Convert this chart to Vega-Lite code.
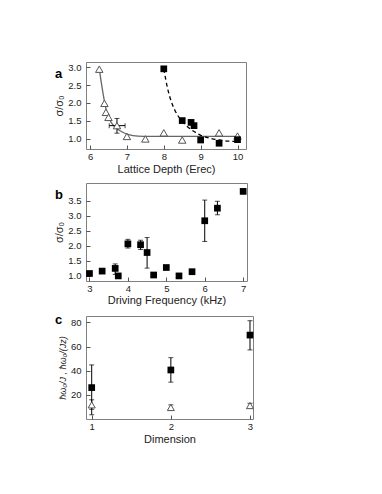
{
  "$schema": "https://vega.github.io/schema/vega-lite/v6.json",
  "padding": {"top": 61, "left": 53, "right": 5, "bottom": 5},
  "spacing": 7,
  "config": {
    "font": "Liberation Sans",
    "view": {"stroke": "#808080", "strokeWidth": 1},
    "axis": {"grid": false, "domain": false, "tickSize": -4, "tickColor": "#555555", "labelFontSize": 9.5, "titleFontSize": 11, "labelColor": "#222222", "titleColor": "#222222", "titleFontWeight": "normal", "titlePadding": 3, "labelOverlap": false, "labelFlush": false, "labelBound": false},
    "axisX": {"labelPadding": 6},
    "axisY": {"labelPadding": 9},
    "title": {"anchor": "start", "frame": "group", "fontSize": 13, "fontWeight": "bold", "dx": -31, "dy": 23, "offset": 0, "baseline": "alphabetic", "color": "#000000"}
  },
  "datasets": {
    "aTri": [{"x":6.25,"y":2.94},{"x":6.39,"y":1.99},{"x":6.43,"y":1.74},{"x":6.5,"y":1.6},{"x":6.73,"y":1.37},{"x":7.0,"y":1.07},{"x":7.5,"y":1.0},{"x":8.0,"y":1.17},{"x":8.5,"y":0.97},{"x":9.5,"y":1.17},{"x":10.0,"y":1.08}],
    "aSq": [{"x":8.0,"y":2.95},{"x":8.5,"y":1.51},{"x":8.74,"y":1.46},{"x":8.82,"y":1.37},{"x":9.0,"y":0.97},{"x":9.5,"y":0.88},{"x":10.0,"y":0.98}],
    "aFitSolid": [{"x":6.25,"y":2.95},{"x":6.3,"y":2.6},{"x":6.35,"y":2.28},{"x":6.43,"y":1.85},{"x":6.5,"y":1.6},{"x":6.6,"y":1.42},{"x":6.75,"y":1.27},{"x":6.9,"y":1.18},{"x":7.05,"y":1.12},{"x":7.3,"y":1.08},{"x":7.6,"y":1.07},{"x":8.0,"y":1.07},{"x":9.0,"y":1.07},{"x":10.0,"y":1.07}],
    "aFitDash": [{"x":8.0,"y":2.95},{"x":8.1,"y":2.42},{"x":8.2,"y":2.05},{"x":8.3,"y":1.8},{"x":8.45,"y":1.55},{"x":8.6,"y":1.38},{"x":8.8,"y":1.22},{"x":9.0,"y":1.1},{"x":9.25,"y":1.02},{"x":9.5,"y":0.97},{"x":9.75,"y":0.94},{"x":10.0,"y":0.93}],
    "aErrV": [{"x":6.73,"lo":1.16,"hi":1.57}],
    "aErrH": [{"y":1.37,"lo":6.52,"hi":6.95}],
    "bPts": [{"x":3.0,"y":1.07},{"x":3.33,"y":1.15},{"x":3.67,"y":1.24},{"x":3.75,"y":0.99},{"x":4.0,"y":2.06},{"x":4.33,"y":2.03},{"x":4.5,"y":1.77},{"x":4.67,"y":1.02},{"x":5.0,"y":1.27},{"x":5.33,"y":0.99},{"x":5.67,"y":1.13},{"x":6.0,"y":2.83},{"x":6.33,"y":3.25},{"x":7.0,"y":3.81}],
    "bErr": [{"x":3.67,"lo":1.04,"hi":1.39},{"x":4.0,"lo":1.92,"hi":2.21},{"x":4.33,"lo":1.87,"hi":2.18},{"x":4.5,"lo":1.25,"hi":2.27},{"x":6.0,"lo":2.14,"hi":3.52},{"x":6.33,"lo":3.03,"hi":3.48}],
    "cSq": [{"x":1,"y":26.0,"lo":8.0,"hi":44.8},{"x":2,"y":40.6,"lo":30.5,"hi":50.8},{"x":3,"y":69.5,"lo":57.2,"hi":81.4}],
    "cTri": [{"x":1,"y":11.7,"lo":3.5,"hi":15.9},{"x":2,"y":9.5,"lo":7.6,"hi":11.7},{"x":3,"y":11.1,"lo":9.0,"hi":13.0}]
  },
  "vconcat": [
    {
      "width": 160, "height": 87,
      "title": {"text": "a"},
      "layer": [
        {"data": {"name": "aFitSolid"}, "mark": {"type": "line", "interpolate": "monotone", "color": "#666666", "strokeWidth": 1.3},
         "encoding": {
           "x": {"field": "x", "type": "quantitative", "title": "Lattice Depth (Erec)", "scale": {"domain": [5.89, 10.23], "nice": false, "zero": false}, "axis": {"values": [6,7,8,9,10], "format": ".0f", "labelOverlap": false}},
           "y": {"field": "y", "type": "quantitative", "title": "σ/σ₀", "scale": {"domain": [0.72, 3.14], "nice": false, "zero": false}, "axis": {"values": [1,1.5,2,2.5,3], "format": ".1f", "labelOverlap": false}}}},
        {"data": {"name": "aFitDash"}, "mark": {"type": "line", "interpolate": "monotone", "color": "#000000", "strokeWidth": 1.3, "strokeDash": [4, 3]},
         "encoding": {"x": {"field": "x", "type": "quantitative", "title": "Lattice Depth (Erec)", "axis": {"values": [6,7,8,9,10], "format": ".0f", "labelOverlap": false}}, "y": {"field": "y", "type": "quantitative", "title": "σ/σ₀", "axis": {"values": [1,1.5,2,2.5,3], "format": ".1f", "labelOverlap": false}}}},
        {"data": {"name": "aErrV"}, "mark": {"type": "rule", "color": "#000000", "strokeWidth": 1},
         "encoding": {"x": {"field": "x", "type": "quantitative", "title": "Lattice Depth (Erec)", "axis": {"values": [6,7,8,9,10], "format": ".0f", "labelOverlap": false}}, "y": {"field": "lo", "type": "quantitative", "title": "σ/σ₀", "axis": {"values": [1,1.5,2,2.5,3], "format": ".1f", "labelOverlap": false}}, "y2": {"field": "hi"}}},
        {"data": {"name": "aErrV"}, "mark": {"type": "tick", "color": "#000000", "orient": "horizontal", "size": 5, "thickness": 1},
         "encoding": {"x": {"field": "x", "type": "quantitative", "title": "Lattice Depth (Erec)", "axis": {"values": [6,7,8,9,10], "format": ".0f", "labelOverlap": false}}, "y": {"field": "lo", "type": "quantitative", "title": "σ/σ₀", "axis": {"values": [1,1.5,2,2.5,3], "format": ".1f", "labelOverlap": false}}}},
        {"data": {"name": "aErrV"}, "mark": {"type": "tick", "color": "#000000", "orient": "horizontal", "size": 5, "thickness": 1},
         "encoding": {"x": {"field": "x", "type": "quantitative", "title": "Lattice Depth (Erec)", "axis": {"values": [6,7,8,9,10], "format": ".0f", "labelOverlap": false}}, "y": {"field": "hi", "type": "quantitative", "title": "σ/σ₀", "axis": {"values": [1,1.5,2,2.5,3], "format": ".1f", "labelOverlap": false}}}},
        {"data": {"name": "aErrH"}, "mark": {"type": "rule", "color": "#000000", "strokeWidth": 1},
         "encoding": {"y": {"field": "y", "type": "quantitative", "title": "σ/σ₀", "axis": {"values": [1,1.5,2,2.5,3], "format": ".1f", "labelOverlap": false}}, "x": {"field": "lo", "type": "quantitative", "title": "Lattice Depth (Erec)", "axis": {"values": [6,7,8,9,10], "format": ".0f", "labelOverlap": false}}, "x2": {"field": "hi"}}},
        {"data": {"name": "aErrH"}, "mark": {"type": "tick", "color": "#000000", "orient": "vertical", "size": 5, "thickness": 1},
         "encoding": {"y": {"field": "y", "type": "quantitative", "title": "σ/σ₀", "axis": {"values": [1,1.5,2,2.5,3], "format": ".1f", "labelOverlap": false}}, "x": {"field": "lo", "type": "quantitative", "title": "Lattice Depth (Erec)", "axis": {"values": [6,7,8,9,10], "format": ".0f", "labelOverlap": false}}}},
        {"data": {"name": "aErrH"}, "mark": {"type": "tick", "color": "#000000", "orient": "vertical", "size": 5, "thickness": 1},
         "encoding": {"y": {"field": "y", "type": "quantitative", "title": "σ/σ₀", "axis": {"values": [1,1.5,2,2.5,3], "format": ".1f", "labelOverlap": false}}, "x": {"field": "hi", "type": "quantitative", "title": "Lattice Depth (Erec)", "axis": {"values": [6,7,8,9,10], "format": ".0f", "labelOverlap": false}}}},
        {"data": {"name": "aTri"}, "mark": {"type": "point", "shape": "triangle-up", "filled": true, "fill": "#ffffff", "stroke": "#555555", "strokeWidth": 1, "size": 55, "opacity": 1},
         "encoding": {"x": {"field": "x", "type": "quantitative", "title": "Lattice Depth (Erec)", "axis": {"values": [6,7,8,9,10], "format": ".0f", "labelOverlap": false}}, "y": {"field": "y", "type": "quantitative", "title": "σ/σ₀", "axis": {"values": [1,1.5,2,2.5,3], "format": ".1f", "labelOverlap": false}}}},
        {"data": {"name": "aSq"}, "mark": {"type": "point", "shape": "square", "filled": true, "color": "#000000", "size": 45, "opacity": 1},
         "encoding": {"x": {"field": "x", "type": "quantitative", "title": "Lattice Depth (Erec)", "axis": {"values": [6,7,8,9,10], "format": ".0f", "labelOverlap": false}}, "y": {"field": "y", "type": "quantitative", "title": "σ/σ₀", "axis": {"values": [1,1.5,2,2.5,3], "format": ".1f", "labelOverlap": false}}}}
      ]
    },
    {
      "width": 161, "height": 98,
      "title": {"text": "b"},
      "layer": [
        {"data": {"name": "bErr"}, "mark": {"type": "rule", "color": "#000000", "strokeWidth": 1},
         "encoding": {
           "x": {"field": "x", "type": "quantitative", "title": "Driving Frequency (kHz)", "scale": {"domain": [2.91, 7.1], "nice": false, "zero": false}, "axis": {"values": [3,4,5,6,7], "format": ".0f", "titlePadding": 2, "labelOverlap": false}},
           "y": {"field": "lo", "type": "quantitative", "title": "σ/σ₀", "scale": {"domain": [0.82, 4.09], "nice": false, "zero": false}, "axis": {"values": [1,1.5,2,2.5,3,3.5], "format": ".1f", "labelOverlap": false}},
           "y2": {"field": "hi"}}},
        {"data": {"name": "bErr"}, "mark": {"type": "tick", "color": "#000000", "orient": "horizontal", "size": 5, "thickness": 1},
         "encoding": {"x": {"field": "x", "type": "quantitative", "title": "Driving Frequency (kHz)", "axis": {"values": [3,4,5,6,7], "format": ".0f", "titlePadding": 2, "labelOverlap": false}}, "y": {"field": "lo", "type": "quantitative", "title": "σ/σ₀", "axis": {"values": [1,1.5,2,2.5,3,3.5], "format": ".1f", "labelOverlap": false}}}},
        {"data": {"name": "bErr"}, "mark": {"type": "tick", "color": "#000000", "orient": "horizontal", "size": 5, "thickness": 1},
         "encoding": {"x": {"field": "x", "type": "quantitative", "title": "Driving Frequency (kHz)", "axis": {"values": [3,4,5,6,7], "format": ".0f", "titlePadding": 2, "labelOverlap": false}}, "y": {"field": "hi", "type": "quantitative", "title": "σ/σ₀", "axis": {"values": [1,1.5,2,2.5,3,3.5], "format": ".1f", "labelOverlap": false}}}},
        {"data": {"name": "bPts"}, "mark": {"type": "point", "shape": "square", "filled": true, "color": "#000000", "size": 45, "opacity": 1},
         "encoding": {"x": {"field": "x", "type": "quantitative", "title": "Driving Frequency (kHz)", "axis": {"values": [3,4,5,6,7], "format": ".0f", "titlePadding": 2, "labelOverlap": false}}, "y": {"field": "y", "type": "quantitative", "title": "σ/σ₀", "axis": {"values": [1,1.5,2,2.5,3,3.5], "format": ".1f", "labelOverlap": false}}}}
      ]
    },
    {
      "width": 167, "height": 103,
      "title": {"text": "c", "dy": 15},
      "layer": [
        {"data": {"name": "cSq"}, "mark": {"type": "rule", "color": "#000000", "strokeWidth": 1},
         "encoding": {
           "x": {"field": "x", "type": "quantitative", "title": "Dimension", "scale": {"domain": [0.928, 3.038], "nice": false, "zero": false}, "axis": {"values": [1,2,3], "format": ".0f", "labelOverlap": false}},
           "y": {"field": "lo", "type": "quantitative", "title": "ħω₀/J , ħω₀/(Jz)", "scale": {"domain": [0, 85.3], "nice": false, "zero": false}, "axis": {"values": [20,40,60,80], "format": ".0f", "titleFontStyle": "italic", "titleFontSize": 9, "labelOverlap": false}},
           "y2": {"field": "hi"}}},
        {"data": {"name": "cSq"}, "mark": {"type": "tick", "color": "#000000", "orient": "horizontal", "size": 5, "thickness": 1},
         "encoding": {"x": {"field": "x", "type": "quantitative", "title": "Dimension", "axis": {"values": [1,2,3], "format": ".0f", "labelOverlap": false}}, "y": {"field": "lo", "type": "quantitative", "title": "ħω₀/J , ħω₀/(Jz)", "axis": {"values": [20,40,60,80], "format": ".0f", "titleFontStyle": "italic", "titleFontSize": 9, "labelOverlap": false}}}},
        {"data": {"name": "cSq"}, "mark": {"type": "tick", "color": "#000000", "orient": "horizontal", "size": 5, "thickness": 1},
         "encoding": {"x": {"field": "x", "type": "quantitative", "title": "Dimension", "axis": {"values": [1,2,3], "format": ".0f", "labelOverlap": false}}, "y": {"field": "hi", "type": "quantitative", "title": "ħω₀/J , ħω₀/(Jz)", "axis": {"values": [20,40,60,80], "format": ".0f", "titleFontStyle": "italic", "titleFontSize": 9, "labelOverlap": false}}}},
        {"data": {"name": "cTri"}, "mark": {"type": "rule", "color": "#000000", "strokeWidth": 1},
         "encoding": {"x": {"field": "x", "type": "quantitative", "title": "Dimension", "axis": {"values": [1,2,3], "format": ".0f", "labelOverlap": false}}, "y": {"field": "lo", "type": "quantitative", "title": "ħω₀/J , ħω₀/(Jz)", "axis": {"values": [20,40,60,80], "format": ".0f", "titleFontStyle": "italic", "titleFontSize": 9, "labelOverlap": false}}, "y2": {"field": "hi"}}},
        {"data": {"name": "cTri"}, "mark": {"type": "tick", "color": "#000000", "orient": "horizontal", "size": 5, "thickness": 1},
         "encoding": {"x": {"field": "x", "type": "quantitative", "title": "Dimension", "axis": {"values": [1,2,3], "format": ".0f", "labelOverlap": false}}, "y": {"field": "lo", "type": "quantitative", "title": "ħω₀/J , ħω₀/(Jz)", "axis": {"values": [20,40,60,80], "format": ".0f", "titleFontStyle": "italic", "titleFontSize": 9, "labelOverlap": false}}}},
        {"data": {"name": "cTri"}, "mark": {"type": "tick", "color": "#000000", "orient": "horizontal", "size": 5, "thickness": 1},
         "encoding": {"x": {"field": "x", "type": "quantitative", "title": "Dimension", "axis": {"values": [1,2,3], "format": ".0f", "labelOverlap": false}}, "y": {"field": "hi", "type": "quantitative", "title": "ħω₀/J , ħω₀/(Jz)", "axis": {"values": [20,40,60,80], "format": ".0f", "titleFontStyle": "italic", "titleFontSize": 9, "labelOverlap": false}}}},
        {"data": {"name": "cTri"}, "mark": {"type": "point", "shape": "triangle-up", "filled": true, "fill": "#ffffff", "stroke": "#555555", "strokeWidth": 1, "size": 50, "opacity": 1},
         "encoding": {"x": {"field": "x", "type": "quantitative", "title": "Dimension", "axis": {"values": [1,2,3], "format": ".0f", "labelOverlap": false}}, "y": {"field": "y", "type": "quantitative", "title": "ħω₀/J , ħω₀/(Jz)", "axis": {"values": [20,40,60,80], "format": ".0f", "titleFontStyle": "italic", "titleFontSize": 9, "labelOverlap": false}}}},
        {"data": {"name": "cSq"}, "mark": {"type": "point", "shape": "square", "filled": true, "color": "#000000", "size": 45, "opacity": 1},
         "encoding": {"x": {"field": "x", "type": "quantitative", "title": "Dimension", "axis": {"values": [1,2,3], "format": ".0f", "labelOverlap": false}}, "y": {"field": "y", "type": "quantitative", "title": "ħω₀/J , ħω₀/(Jz)", "axis": {"values": [20,40,60,80], "format": ".0f", "titleFontStyle": "italic", "titleFontSize": 9, "labelOverlap": false}}}}
      ]
    }
  ]
}
